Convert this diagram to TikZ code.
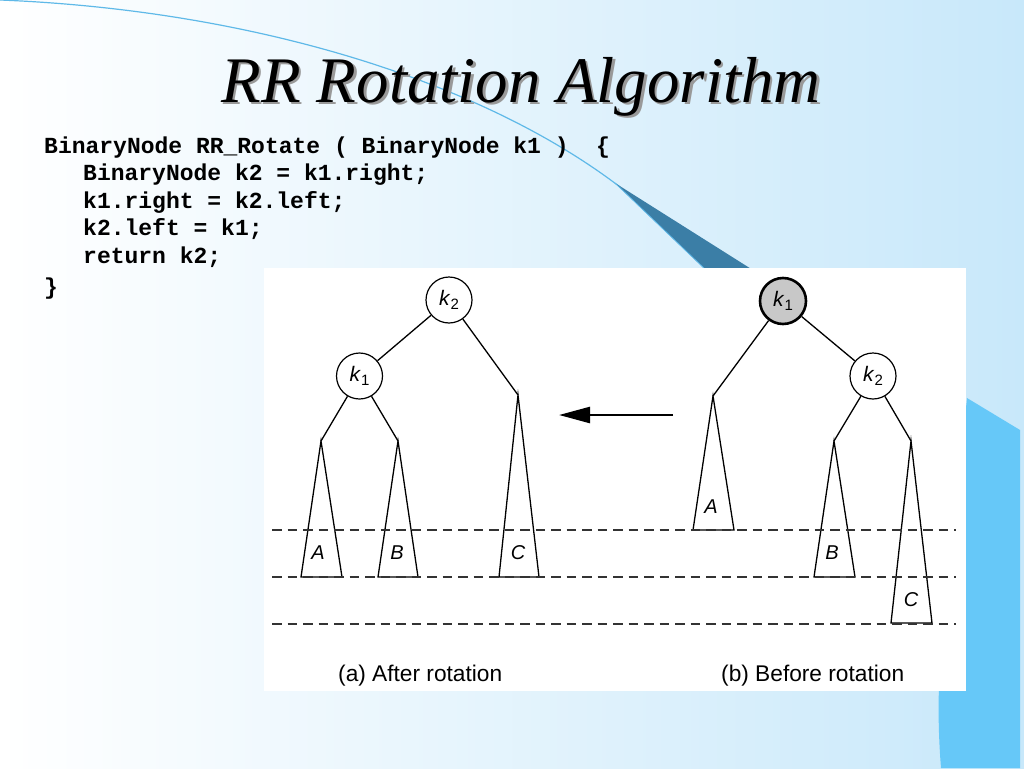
\documentclass[tikz,border=0pt]{standalone}
\usepackage{fontspec}
\usetikzlibrary{arrows.meta}
\newfontfamily\helvfont{Liberation Sans}
\newfontfamily\codefont{Liberation Mono}
\newfontfamily\titlefont{Liberation Serif}
\definecolor{bgblue}{RGB}{200,232,250}
\definecolor{brightblue}{RGB}{102,200,248}
\definecolor{wedgeblue}{RGB}{59,126,166}
\definecolor{arcblue}{RGB}{95,185,232}
\definecolor{nodegray}{RGB}{200,200,200}
\tikzset{
  tnode/.style={circle, draw=black, line width=1.2pt, fill=white, minimum size=46pt, inner sep=0pt,
    font=\helvfont\fontsize{21}{22}\selectfont},
  rootnode/.style={tnode, fill=nodegray, line width=2.6pt},
  tline/.style={line width=1.3pt, black},
  tlabel/.style={font=\helvfont\itshape\fontsize{20}{22}\selectfont, inner sep=0pt},
  level/.style={dashed, dash pattern=on 9.5pt off 6pt, line width=1.2pt, black!80},
  codeline/.style={anchor=base west, inner sep=0pt, font=\codefont\bfseries\fontsize{23}{26}\selectfont},
  caption/.style={anchor=base west, inner sep=0pt, font=\helvfont\fontsize{22.7}{26}\selectfont},
  titletext/.style={anchor=base, inner sep=0pt, font=\titlefont\itshape\fontsize{65}{70}\selectfont}
}
\newcommand{\klab}[1]{\textit{k}\raisebox{-0.4ex}{\fontsize{15}{16}\selectfont #1}}
\begin{document}
\begin{tikzpicture}[x=1pt,y=-1pt]
\useasboundingbox (0,0) rectangle (1024,768);
% background
\shade[left color=white, right color=bgblue] (0,0) rectangle (1024,768);
\fill[bgblue] (1018,0) rectangle (1024,768);
% bright blue shape on the right
\fill[brightblue] (967,398) -- (1020,430) -- (1020,768) -- (941,768) .. controls (938,730) and (938,700) .. (940,660) -- cycle;
% swoosh
\draw[arcblue, line width=1.2pt] (0,0) .. controls (250,10) and (480,80) .. (620,187);
\fill[wedgeblue] (615,183) -- (756,272) -- (708,272) -- cycle;
\draw[arcblue, line width=0.8pt] (615,183) -- (708,272);
% title
\node[titletext, text=black!40] (titleshadow) at (523.5,104.5) {RR Rotation Algorithm};
\node[titletext] (title) at (521,102) {RR Rotation Algorithm};
% code
\node[codeline] (c1) at (44,153) {BinaryNode RR\_Rotate ( BinaryNode k1 )~~\{};
\node[codeline] (c2) at (83,180) {BinaryNode k2 = k1.right;};
\node[codeline] (c3) at (83,208) {k1.right = k2.left;};
\node[codeline] (c4) at (83,235) {k2.left = k1;};
\node[codeline] (c5) at (83,263) {return k2;};
\node[codeline] (c6) at (44,294) {\}};
% white panel
\fill[white] (264,268) rectangle (966,691);
% level lines
\coordinate (d1a) at (272,530); \coordinate (d1b) at (956,530);
\coordinate (d2a) at (272,577); \coordinate (d2b) at (956,577);
\coordinate (d3a) at (272,624); \coordinate (d3b) at (956,624);
% ---- left tree (after rotation)
\node[tnode] (Lk2) at (449,300) {\klab{2}};
\node[tnode] (Lk1) at (359.5,376) {\klab{1}};
\coordinate (LAt) at (321,441); \coordinate (LAl) at (301,577); \coordinate (LAr) at (342,577);
\coordinate (LBt) at (398,441); \coordinate (LBl) at (378,577); \coordinate (LBr) at (418,577);
\coordinate (LCt) at (518,395); \coordinate (LCl) at (499,577); \coordinate (LCr) at (539,577);
\draw[tline] (Lk2) -- (Lk1);
\draw[tline] (Lk2) -- (LCt);
\draw[tline] (Lk1) -- (LAt);
\draw[tline] (Lk1) -- (LBt);
\draw[tline] (LAt) -- (LAl) -- (LAr) -- cycle;
\draw[tline] (LBt) -- (LBl) -- (LBr) -- cycle;
\draw[tline] (LCt) -- (LCl) -- (LCr) -- cycle;
\node[tlabel] (LA) at (318,553) {A};
\node[tlabel] (LB) at (397,553) {B};
\node[tlabel] (LC) at (518,553) {C};
% ---- right tree (before rotation)
\node[rootnode] (Rk1) at (783,301) {\klab{1}};
\node[tnode] (Rk2) at (873,376) {\klab{2}};
\coordinate (RAt) at (713,396); \coordinate (RAl) at (693,530); \coordinate (RAr) at (734,530);
\coordinate (RBt) at (834,441); \coordinate (RBl) at (814,577); \coordinate (RBr) at (855,577);
\coordinate (RCt) at (911,441); \coordinate (RCl) at (891,623); \coordinate (RCr) at (932,623);
\draw[tline] (Rk1) -- (RAt);
\draw[tline] (Rk1) -- (Rk2);
\draw[tline] (Rk2) -- (RBt);
\draw[tline] (Rk2) -- (RCt);
\draw[tline] (RAt) -- (RAl) -- (RAr) -- cycle;
\draw[tline] (RBt) -- (RBl) -- (RBr) -- cycle;
\draw[tline] (RCt) -- (RCl) -- (RCr) -- cycle;
\node[tlabel] (RA) at (711,507) {A};
\node[tlabel] (RB) at (832,553) {B};
\node[tlabel] (RC) at (911,600) {C};
% level lines
\draw[level] (d1a) -- (d1b);
\draw[level] (d2a) -- (d2b);
\draw[level] (d3a) -- (d3b);
% arrow
\coordinate (arrS) at (673,415);
\coordinate (arrE) at (559,415);
\draw[line width=2.5pt, -{Triangle[length=31pt,width=16pt]}] (arrS) -- (arrE);
% captions
\node[caption] (capa) at (338,681) {(a) After rotation};
\node[caption] (capb) at (721,681) {(b) Before rotation};
\end{tikzpicture}
\end{document}
